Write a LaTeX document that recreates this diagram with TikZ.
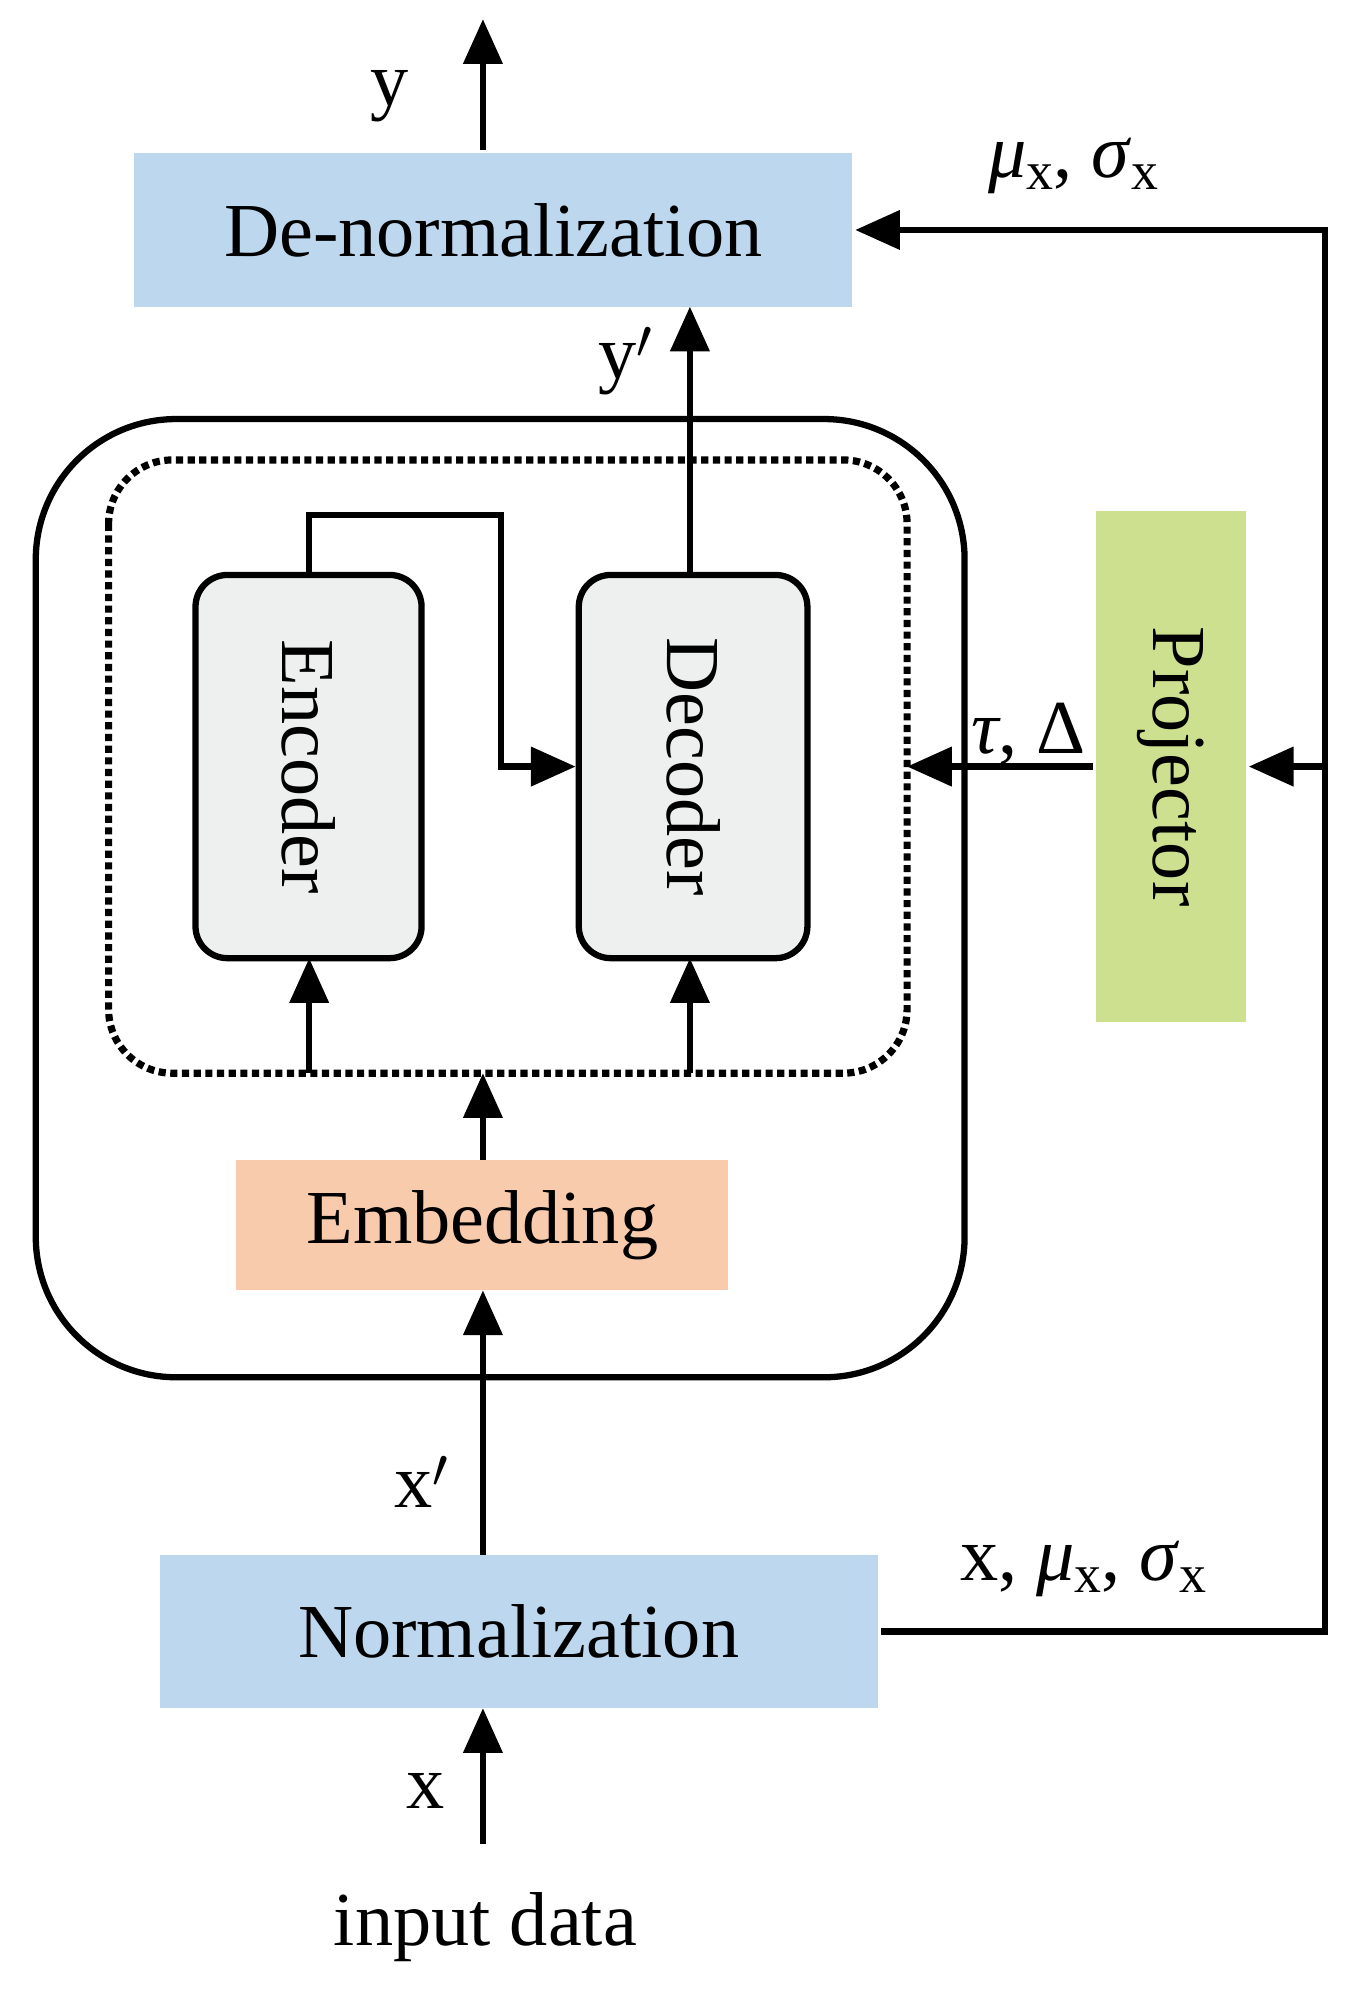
\documentclass[tikz,border=0pt]{standalone}
\usepackage{fontspec}
\setmainfont{Liberation Serif}
\usetikzlibrary{arrows.meta}
\newcommand{\dsub}[1]{\raisebox{-0.35ex}{\fontsize{24}{26}\selectfont #1}}
\definecolor{blu}{RGB}{189,215,238}
\definecolor{grn}{RGB}{205,224,143}
\definecolor{org}{RGB}{248,203,173}
\definecolor{gry}{RGB}{238,240,240}
\begin{document}
\begin{tikzpicture}[x=0.02cm,y=-0.02cm,
  line width=2.8pt,
  >={Triangle[length=0.7cm,width=0.6cm]},
  txt/.style={font=\fontsize{34}{38}\selectfont, inner sep=0pt},
  box/.style={draw=none, inner sep=0pt, font=\fontsize{34}{38}\selectfont},
  blk/.style={draw, rounded corners=0.5cm, fill=gry, inner sep=0pt, font=\fontsize{34}{38}\selectfont}]
\useasboundingbox (0,0) rectangle (1060,1567);
\draw[rounded corners=2.2cm] (28,328) rectangle (755,1078);
\draw[dotted, line width=3.2pt, rounded corners=1cm] (85,360) rectangle (710,840);
\node[box, fill=blu, minimum width=11.24cm, minimum height=2.4cm] (den) at (386,180) {De-normalization};
\node[box, fill=blu, minimum width=11.24cm, minimum height=2.4cm] (nor) at (406,1277) {Normalization};
\node[box, fill=org, minimum width=7.7cm, minimum height=2.04cm] (emb) at (377.5,959) {Embedding};
\node[box, fill=grn, minimum width=2.34cm, minimum height=8cm] (proj) at (916.5,600) {};
\node[txt, rotate=-90] at (916.5,600) {Projector};
\node[blk, minimum width=3.54cm, minimum height=6cm] (enc) at (241.5,600) {};
\node[txt, rotate=-90] at (241.5,600) {Encoder};
\node[blk, minimum width=3.58cm, minimum height=6cm] (dec) at (542.5,600) {};
\node[txt, rotate=-90] at (542.5,600) {Decoder};
\coordinate (top) at (378,15);
\coordinate (bot) at (378,1443);
\coordinate (rt) at (1037,600);
\coordinate (dotr) at (710,600);
\draw[->] (den.north -| top) -- (top);
\draw[->] (540,450) -- (540,240);
\draw[->] (242,450) -- (242,403) -- (392,403) -- (392,600) -- (dec.west);
\draw[->] (242,840) -- (242,750);
\draw[->] (540,840) -- (540,750);
\draw[->] (378,908) -- (378,840);
\draw[->] (378,1217) -- (378,1010);
\draw[->] (bot) -- (378,1337);
\draw[->] (nor.east) -- (1037,1277) -- (1037,180) -- (den.east);
\draw[->] (rt) -- (proj.east);
\draw[->] (proj.west) -- (dotr);
\node[txt] at (305,75) {y};
\node[txt] at (490,283) {y$'$};
\node[txt] at (330,1160) {x$'$};
\node[txt] at (333,1402) {x};
\node[txt] at (380,1508) {input data};
\node[txt] at (805,575) {\textit{τ}, Δ};
\node[txt] at (840,130) {\textit{μ}\dsub{x}, \textit{σ}\dsub{x}};
\node[txt] at (848,1228) {x, \textit{μ}\dsub{x}, \textit{σ}\dsub{x}};
\end{tikzpicture}
\end{document}
